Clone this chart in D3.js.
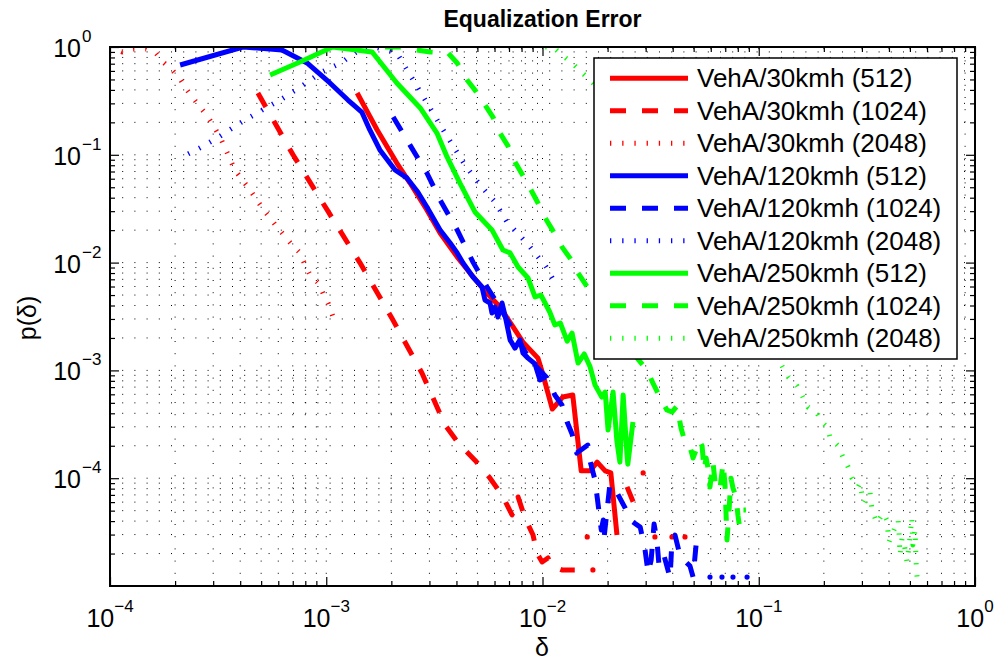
<!DOCTYPE html>
<html>
<head>
<meta charset="utf-8">
<script src="https://cdn.jsdelivr.net/npm/d3@7"></script>
<style>
  body { margin: 0; background: #fff; }
  svg { display: block; font-family: "Liberation Sans", Arial, sans-serif; }
</style>
</head>
<body>
<script>
let w = 999;
let h = 663;
let pLeft = 110, pRight = 975, pTop = 47, pBottom = 586;

// ---- data (delta, p(delta)); null breaks the line where p = 0 ----
const veh30_512 = [[1.39e-3,0.374],[1.72e-3,0.170],[2.12e-3,0.0839],[2.44e-3,0.0547],[2.92e-3,0.0308],[3.36e-3,0.0188],
  [4.03e-3,0.0113],[4.62e-3,8.0e-3],[5.54e-3,5.2e-3],[6.36e-3,3.87e-3],[7.31e-3,2.53e-3],[8.12e-3,1.83e-3],[9.53e-3,1.30e-3],
  [1.00e-2,9.46e-4],[1.11e-2,4.38e-4],[1.24e-2,5.66e-4],[1.38e-2,5.91e-4],[1.51e-2,1.17e-4],[1.66e-2,1.17e-4],[1.79e-2,1.41e-4],
  [1.95e-2,1.17e-4],[2.07e-2,1.12e-4],[2.21e-2,2.97e-5]];
const veh30_1024 = [[4.83e-4,0.374],[7.02e-4,0.1],[1.01e-3,0.0308],[1.43e-3,0.01],[2.01e-3,3.06e-3],[2.77e-3,9.46e-4],
  [3.54e-3,3.12e-4],[4.15e-3,2.03e-4],[4.87e-3,1.47e-4],[5.72e-3,1.0e-4],[6.50e-3,6.98e-5],[7.23e-3,4.56e-5],[7.71e-3,6.7e-5],
  [8.30e-3,4.27e-5],[9.04e-3,2.97e-5],[9.43e-3,2.02e-5],[9.96e-3,1.67e-5],[1.06e-2,1.82e-5],[1.11e-2,1.53e-5],[1.23e-2,1.41e-5],
  [1.41e-2,1.41e-5],null,[1.61e-2,2.85e-5],null,[1.71e-2,1.41e-5],null,[2.46e-2,8.3e-5],[2.65e-2,5.77e-5],null,
  [2.92e-2,1.12e-4],null,[3.31e-2,2.85e-5],null,[3.97e-2,2.85e-5],null,[4.56e-2,2.85e-5]];
const veh30_2048 = [[1.0e-4,1.0],[1.14e-4,0.90],[1.28e-4,0.958],[1.47e-4,0.958],[1.63e-4,0.88],[1.76e-4,0.726],[1.94e-4,0.612],
  [2.11e-4,0.505],[2.27e-4,0.399],[2.52e-4,0.303],[2.84e-4,0.224],[3.23e-4,0.146],[3.78e-4,0.0723],[4.44e-4,0.0471],
  [5.10e-4,0.0314],[5.92e-4,0.0214],[6.95e-4,0.0146],[7.56e-4,0.0123],[7.98e-4,9.5e-3],[8.41e-4,7.7e-3],[9.16e-4,6.5e-3],
  [9.66e-4,5.2e-3],[1.02e-3,4.2e-3],[1.09e-3,2.9e-3]];
const veh120_512 = [[2.11e-4,0.681],[4.12e-4,1.0],[6.24e-4,0.938],[8.15e-4,0.711],[1.04e-3,0.464],[1.26e-3,0.322],[1.46e-3,0.249],
  [1.59e-3,0.170],[1.77e-3,0.111],[2.08e-3,0.0723],[2.36e-3,0.0610],[2.65e-3,0.0452],[2.92e-3,0.0328],[3.36e-3,0.0201],
  [3.74e-3,0.0152],[4.03e-3,0.0123],[4.29e-3,9.9e-3],[4.77e-3,7.35e-3],[5.25e-3,5.94e-3],[5.42e-3,4.50e-3],[5.72e-3,4.22e-3],
  [5.84e-3,3.41e-3],[6.03e-3,3.87e-3],[6.22e-3,3.13e-3],[6.50e-3,4.22e-3],[6.78e-3,2.94e-3],[7.08e-3,1.92e-3],[7.46e-3,1.61e-3],
  [7.87e-3,1.92e-3],[8.12e-3,1.45e-3],[8.57e-3,1.30e-3],[9.23e-3,1.15e-3],[9.73e-3,8.15e-4],[1.03e-2,8.69e-4]];
const veh120_1024 = [[2.04e-3,0.224],[2.44e-3,0.123],[2.92e-3,0.0678],[3.36e-3,0.0381],[4.03e-3,0.0201],[4.77e-3,0.0101],
  [5.54e-3,5.94e-3],[6.17e-3,4.22e-3],[7.08e-3,2.64e-3],[7.87e-3,1.80e-3],[8.75e-3,1.25e-3],[1.05e-2,8.50e-4],[1.14e-2,5.91e-4],
  [1.23e-2,4.78e-4],[1.30e-2,3.32e-4],[1.37e-2,2.57e-4],[1.44e-2,1.71e-4],[1.62e-2,2.03e-4],[1.66e-2,1.44e-4],[1.75e-2,9.6e-5],
  [1.81e-2,5.6e-5],[1.87e-2,3.31e-5],[1.91e-2,4.09e-5],[1.93e-2,2.91e-5],[2.05e-2,8.8e-5],[2.23e-2,7.1e-5],[2.41e-2,5.3e-5],
  [2.54e-2,4.09e-5],[2.83e-2,3.52e-5],[2.98e-2,2.16e-5],[3.08e-2,1.32e-5],[3.18e-2,1.74e-5],[3.28e-2,3.76e-5],[3.38e-2,2.67e-5],
  [3.46e-2,1.53e-5],[3.65e-2,1.90e-5],[3.89e-2,1.19e-5],[3.97e-2,2.67e-5],[4.10e-2,2.97e-5],[4.33e-2,1.90e-5],[4.81e-2,1.53e-5],
  [4.97e-2,1.21e-5],[5.13e-2,2.40e-5],[5.52e-2,2.50e-5],null,[5.95e-2,1.21e-5],null,[6.76e-2,1.21e-5],null,[7.60e-2,1.21e-5],
  null,[8.83e-2,1.21e-5]];
const veh120_2048 = [[2.30e-4,0.102],[2.61e-4,0.116],[3.23e-4,0.149],[3.99e-4,0.197],[5.05e-4,0.260],[6.24e-4,0.330],
  [7.72e-4,0.435],[9.55e-4,0.586],[1.19e-3,0.726],[1.31e-3,0.843],[1.48e-3,0.98],[1.68e-3,1.0],[2.12e-3,0.880],[2.26e-3,0.711],
  [2.57e-3,0.464],[2.96e-3,0.290],[3.36e-3,0.189],[3.86e-3,0.121],[4.38e-3,0.0804],[5.14e-3,0.0525],[6.03e-3,0.0365],
  [6.85e-3,0.0238],[8.04e-3,0.0169],[8.75e-3,0.0140],[9.53e-3,0.0113],[1.04e-2,9.1e-3],[1.11e-2,7.2e-3]];
const veh250_512 = [[5.50e-4,0.550],[7.56e-4,0.726],[1.07e-3,1.0],[1.63e-3,0.899],[2.12e-3,0.464],[2.72e-3,0.272],[3.25e-3,0.159],
  [3.62e-3,0.0955],[4.15e-3,0.0547],[4.87e-3,0.0295],[5.84e-3,0.0201],[6.56e-3,0.0131],[7.08e-3,0.0123],[7.71e-3,9.1e-3],
  [8.57e-3,7.2e-3],[9.23e-3,4.8e-3],[9.84e-3,5.0e-3],[1.08e-2,3.48e-3],[1.14e-2,2.64e-3],[1.21e-2,2.75e-3],[1.30e-2,1.87e-3],
  [1.37e-2,2.22e-3],[1.46e-2,1.17e-3],[1.56e-2,1.42e-3],[1.66e-2,1.08e-3],[1.75e-2,7.3e-4],[1.88e-2,5.66e-4],[1.95e-2,6.3e-4],
  [2.01e-2,2.80e-4],[2.12e-2,6.3e-4],[2.21e-2,2.17e-4],[2.28e-2,1.41e-4],[2.36e-2,5.91e-4],[2.46e-2,1.64e-4],[2.48e-2,1.35e-4],
  [2.62e-2,3.32e-4]];
const veh250_1024 = [[1.87e-3,1.0],[2.19e-3,1.0],[2.63e-3,0.938],[3.02e-3,0.899],[3.66e-3,0.880],[4.03e-3,0.711],[4.48e-3,0.494],
  [4.87e-3,0.399],[5.42e-3,0.290],[5.90e-3,0.224],[6.36e-3,0.159],[6.92e-3,0.121],[7.46e-3,0.0858],[8.04e-3,0.0664],
  [8.85e-3,0.0471],[9.53e-3,0.0357],[1.03e-2,0.0259],[1.12e-2,0.0196],[1.23e-2,0.0140],[1.34e-2,0.0110],[1.46e-2,8.0e-3],
  [1.61e-2,5.94e-3],[1.85e-2,4.04e-3],[2.16e-2,2.64e-3],[2.54e-2,1.72e-3],[2.74e-2,1.30e-3],[3.04e-2,1.01e-3],[3.24e-2,7.64e-4],
  [3.49e-2,5.66e-4],[3.76e-2,4.29e-4],[3.97e-2,4.11e-4],[4.19e-2,4.68e-4],[4.37e-2,2.92e-4],[4.56e-2,2.17e-4],[4.81e-2,1.95e-4],
  [4.97e-2,1.54e-4],[5.13e-2,1.83e-4],[5.30e-2,2.26e-4],[5.47e-2,1.99e-4],[5.59e-2,1.19e-4],[5.71e-2,1.54e-4],[5.83e-2,1.24e-4],
  [5.95e-2,8.3e-5],[6.14e-2,1.41e-4],[6.34e-2,7.8e-5],[6.62e-2,8.1e-5],[6.84e-2,1.38e-4],[6.98e-2,8.8e-5],[7.13e-2,2.67e-5],
  [7.28e-2,4.85e-5],[7.44e-2,1.0e-4],[7.60e-2,8.1e-5],[7.85e-2,6.7e-5],[8.02e-2,4.46e-5],[8.19e-2,3.31e-5],null,
  [8.50e-2,5.07e-5],[8.72e-2,5.07e-5]];
const veh250_2048 = [[1.03e-2,1.0],[1.12e-2,1.0],[1.23e-2,0.843],[1.37e-2,0.711],[1.51e-2,0.586],[1.66e-2,0.494],[2.05e-2,0.322],
  [2.83e-2,0.137],[3.89e-2,0.0525],[5.35e-2,0.0201],[7.36e-2,6.9e-3],[0.101,2.37e-3],[0.128,1.10e-3],[0.137,8.7e-4],[0.150,7.2e-4],
  [0.159,5.8e-4],[0.169,4.57e-4],[0.186,4.02e-4],[0.196,3.32e-4],[0.207,2.99e-4],[0.214,2.36e-4],[0.233,1.99e-4],[0.245,1.57e-4],
  [0.259,1.27e-4],[0.270,1.0e-4],[0.288,8.3e-5],[0.294,9.0e-5],[0.300,7.1e-5],[0.307,5.9e-5],[0.327,7.4e-5],[0.334,5.1e-5],
  [0.352,3.84e-5],[0.376,4.75e-5],[0.392,4.09e-5],[0.396,3.17e-5],[0.40,2.56e-5],[0.441,4.09e-5],[0.445,3.24e-5],[0.450,1.94e-5],
  [0.460,2.79e-5],[0.47,2.50e-5],[0.485,1.67e-5],[0.500,2.79e-5],[0.51,4.27e-5],[0.516,2.40e-5],[0.528,3.31e-5],[0.535,1.50e-5],
  [0.540,1.19e-5]];

const seriesData = [veh30_512, veh30_1024, veh30_2048, veh120_512, veh120_1024, veh120_2048, veh250_512, veh250_1024, veh250_2048];
const seriesNames = ["VehA/30kmh (512)", "VehA/30kmh (1024)", "VehA/30kmh (2048)",
  "VehA/120kmh (512)", "VehA/120kmh (1024)", "VehA/120kmh (2048)",
  "VehA/250kmh (512)", "VehA/250kmh (1024)", "VehA/250kmh (2048)"];
const seriesColors = ["#ff0000", "#ff0000", "#ff0000", "#0000ff", "#0000ff", "#0000ff", "#00ff00", "#00ff00", "#00ff00"];
const seriesStyles = ["solid", "dashed", "dotted", "solid", "dashed", "dotted", "solid", "dashed", "dotted"];

const xTickVals = [1e-4, 1e-3, 1e-2, 1e-1, 1];
const xTickExp = ["\u22124", "\u22123", "\u22122", "\u22121", "0"];
const yTickVals = [1e-4, 1e-3, 1e-2, 1e-1, 1];
const yTickExp = ["\u22124", "\u22123", "\u22122", "\u22121", "0"];

// ---- drawing ----
const dashFor = { solid: null, dashed: "16,16", dotted: "1.3,10.9" };

let svg = d3.select("body").append("svg").attr("width", w).attr("height", h);

svg.append("defs").append("clipPath").attr("id", "clip")
  .append("rect")
  .attr("x", pLeft).attr("y", pTop)
  .attr("width", pRight - pLeft).attr("height", pBottom - pTop);

let xScale = d3.scaleLog().domain([1e-4, 1]).range([pLeft, pRight]);
let yScale = d3.scaleLog().domain([1e-5, 1]).range([pBottom, pTop]);

let xMinor = [], yMinor = [];
for (let e = -4; e < 0; e++) for (let k = 1; k < 10; k++) xMinor.push(k * Math.pow(10, e));
for (let e = -5; e < 0; e++) for (let k = 1; k < 10; k++) yMinor.push(k * Math.pow(10, e));
let xMinorOnly = xMinor.filter((v, i) => i % 9 !== 0);
let yMinorOnly = yMinor.filter((v, i) => i % 9 !== 0);

// dotted grid (major + minor)
let grid = svg.append("g").attr("stroke", "#000").attr("stroke-width", 1).attr("stroke-dasharray", "1,11.2");
grid.selectAll("line.gx")
  .data(xMinor.slice(1))
  .enter().append("line")
  .attr("class", "gx")
  .attr("x1", (d) => xScale(d)).attr("x2", (d) => xScale(d))
  .attr("y1", pBottom).attr("y2", pTop);
grid.selectAll("line.gy")
  .data(yMinor.slice(1))
  .enter().append("line")
  .attr("class", "gy")
  .attr("y1", (d) => yScale(d)).attr("y2", (d) => yScale(d))
  .attr("x1", pLeft).attr("x2", pRight);

// tick marks on all four sides, pointing inward
function ticks(axis, vals, size, tr) {
  svg.append("g")
    .attr("transform", tr)
    .call(axis.tickValues(vals).tickSize(-size).tickFormat(""))
    .call((g) => g.select(".domain").remove())
    .call((g) => g.selectAll("line").attr("stroke", "#000").attr("stroke-width", 1.2));
}
ticks(d3.axisBottom(xScale), xMinorOnly, 5, "translate(0," + pBottom + ")");
ticks(d3.axisBottom(xScale), xTickVals, 9, "translate(0," + pBottom + ")");
ticks(d3.axisTop(xScale), xMinorOnly, 5, "translate(0," + pTop + ")");
ticks(d3.axisTop(xScale), xTickVals, 9, "translate(0," + pTop + ")");
ticks(d3.axisLeft(yScale), yMinorOnly, 5, "translate(" + pLeft + ",0)");
ticks(d3.axisLeft(yScale), yTickVals, 9, "translate(" + pLeft + ",0)");
ticks(d3.axisRight(yScale), yMinorOnly, 5, "translate(" + pRight + ",0)");
ticks(d3.axisRight(yScale), yTickVals, 9, "translate(" + pRight + ",0)");

// series
let plot = svg.append("g").attr("clip-path", "url(#clip)");
let line = d3.line()
  .defined((d) => d !== null)
  .x((d) => xScale(d[0]))
  .y((d) => yScale(d[1]));

seriesData.forEach((data, i) => {
  plot.append("path")
    .attr("d", line(data))
    .attr("fill", "none")
    .attr("stroke", seriesColors[i])
    .attr("stroke-width", 5)
    .attr("stroke-linejoin", "round")
    .attr("stroke-dasharray", dashFor[seriesStyles[i]]);
  // isolated points (neighbours are zero) are drawn as round dots
  let lone = data.filter((d, j) => d !== null && !data[j - 1] && !data[j + 1]);
  plot.selectAll(null)
    .data(lone)
    .enter().append("circle")
    .attr("cx", (d) => xScale(d[0]))
    .attr("cy", (d) => yScale(d[1]))
    .attr("r", 2.6)
    .attr("fill", seriesColors[i]);
});

// axes box
svg.append("rect")
  .attr("x", pLeft).attr("y", pTop)
  .attr("width", pRight - pLeft).attr("height", pBottom - pTop)
  .attr("fill", "none").attr("stroke", "#000").attr("stroke-width", 2);

// tick labels
let xLab = svg.selectAll("text.xl")
  .data(xTickVals)
  .enter().append("text")
  .attr("class", "xl")
  .attr("x", (d) => xScale(d))
  .attr("y", pBottom + 41)
  .attr("text-anchor", "middle")
  .attr("font-size", "25px");
xLab.append("tspan").text("10");
xLab.append("tspan").attr("dy", -15).attr("font-size", "17px").text((d, i) => xTickExp[i]);

svg.selectAll("text.yl")
  .data(yTickVals)
  .enter().append("text")
  .attr("class", "yl")
  .attr("x", 81)
  .attr("y", (d) => yScale(d) + 10)
  .attr("text-anchor", "end")
  .attr("font-size", "25px")
  .text("10");
svg.selectAll("text.ye")
  .data(yTickVals)
  .enter().append("text")
  .attr("class", "ye")
  .attr("x", 82)
  .attr("y", (d) => yScale(d) - 5)
  .attr("font-size", "17px")
  .text((d, i) => yTickExp[i]);

// title and axis labels
svg.append("text")
  .attr("x", (pLeft + pRight) / 2).attr("y", 27)
  .attr("text-anchor", "middle")
  .attr("font-size", "23px").attr("font-weight", "bold")
  .text("Equalization Error");
svg.append("text")
  .attr("x", 542).attr("y", 656)
  .attr("text-anchor", "middle")
  .attr("font-size", "25px")
  .text("\u03b4");
svg.append("text")
  .attr("transform", "translate(36,318) rotate(-90)")
  .attr("text-anchor", "middle")
  .attr("font-size", "25px")
  .text("p(\u03b4)");

// legend
let lg = svg.append("g");
lg.append("rect")
  .attr("x", 594).attr("y", 58)
  .attr("width", 363).attr("height", 301)
  .attr("fill", "#fff").attr("stroke", "#000").attr("stroke-width", 1.5);
seriesNames.forEach((name, i) => {
  let cy = 78.3 + i * 32.5;
  lg.append("line")
    .attr("x1", 610).attr("x2", 688)
    .attr("y1", cy).attr("y2", cy)
    .attr("stroke", seriesColors[i])
    .attr("stroke-width", 5)
    .attr("stroke-dasharray", dashFor[seriesStyles[i]]);
  lg.append("text")
    .attr("x", 697).attr("y", cy + 9)
    .attr("font-size", "26px")
    .text(name);
});
</script>
</body>
</html>
